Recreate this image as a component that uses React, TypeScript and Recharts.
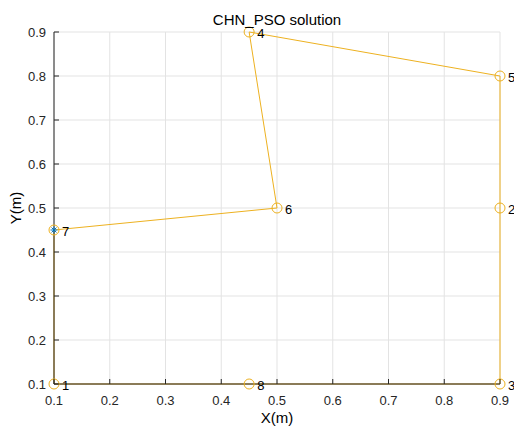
import React from 'react';
import {
  ComposedChart,
  Line,
  Scatter,
  XAxis,
  YAxis,
  CartesianGrid,
} from 'recharts';

// city coordinates (m), ids 1..8
const cityIds = ['1', '2', '3', '4', '5', '6', '7', '8'];
const cityX = [0.1, 0.9, 0.9, 0.45, 0.9, 0.5, 0.1, 0.45];
const cityY = [0.1, 0.5, 0.1, 0.9, 0.8, 0.5, 0.45, 0.1];

// visiting order found by the solver (starts and ends at 7)
const tour = ['7', '6', '4', '5', '2', '3', '8', '1', '7'];
const startCity = '7';

const ticks = [0.1, 0.2, 0.3, 0.4, 0.5, 0.6, 0.7, 0.8, 0.9];

const cities = cityIds.map((id, i) => ({ id, x: cityX[i], y: cityY[i] }));
const route = tour.map((id) => cities.find((c) => c.id === id)!);

const ORANGE = '#EDB120';
const BLUE = '#0072BD';
const AXIS = '#262626';
const FONT = '"Liberation Sans", Arial, Helvetica, sans-serif';

const BottomTick = (props: any) => {
  const { x, y, payload } = props;
  return (
    <g>
      <line x1={x} y1={y} x2={x} y2={y - 5} stroke={AXIS} />
      <text x={x} y={y + 16} textAnchor="middle" dominantBaseline="central" fontSize={13} fill={AXIS} fontFamily={FONT}>
        {payload.value}
      </text>
    </g>
  );
};

const LeftTick = (props: any) => {
  const { x, y, payload } = props;
  return (
    <g>
      <line x1={x} y1={y} x2={x + 5} y2={y} stroke={AXIS} />
      <text x={x - 8} y={y} textAnchor="end" dominantBaseline="central" fontSize={13} fill={AXIS} fontFamily={FONT}>
        {payload.value}
      </text>
    </g>
  );
};

const TopTick = (props: any) => {
  const { x, y } = props;
  return <line x1={x} y1={y} x2={x} y2={y + 5} stroke={AXIS} />;
};

const RightTick = (props: any) => {
  const { x, y } = props;
  return <line x1={x} y1={y} x2={x - 5} y2={y} stroke={AXIS} />;
};

const CityMarker = (props: any) => {
  const { cx, cy, payload } = props;
  const s = 3.5;
  return (
    <g>
      <circle cx={cx} cy={cy} r={5} fill="none" stroke={ORANGE} strokeWidth={1} />
      {payload.id === startCity && (
        <g stroke={BLUE} strokeWidth={1}>
          <line x1={cx - s} y1={cy} x2={cx + s} y2={cy} />
          <line x1={cx} y1={cy - s} x2={cx} y2={cy + s} />
          <line x1={cx - s * 0.7} y1={cy - s * 0.7} x2={cx + s * 0.7} y2={cy + s * 0.7} />
          <line x1={cx - s * 0.7} y1={cy + s * 0.7} x2={cx + s * 0.7} y2={cy - s * 0.7} />
        </g>
      )}
      <text x={cx + 8} y={cy + 1} dominantBaseline="central" fontSize={13} fill="#000" fontFamily={FONT}>
        {payload.id}
      </text>
    </g>
  );
};

const App: React.FC = () => {
  return (
    <div style={{ position: 'absolute', left: 0, top: 0, width: 514, height: 428, background: '#fff', fontFamily: FONT }}>
      <ComposedChart
        width={514}
        height={428}
        data={route}
        margin={{ top: 32, right: 14, bottom: 0, left: 0 }}
      >
        <CartesianGrid stroke="#e3e3e3" xAxisId="bottom" yAxisId="left" />
        <XAxis
          xAxisId="bottom"
          dataKey="x"
          type="number"
          domain={[0.1, 0.9]}
          ticks={ticks}
          height={44}
          tickSize={0}
          tickMargin={0}
          tick={<BottomTick />}
          axisLine={{ stroke: AXIS }}
        />
        <XAxis
          xAxisId="top"
          orientation="top"
          dataKey="x"
          type="number"
          domain={[0.1, 0.9]}
          ticks={ticks}
          height={0}
          tickSize={0}
          tickMargin={0}
          tick={<TopTick />}
          axisLine={{ stroke: AXIS }}
        />
        <YAxis
          yAxisId="left"
          dataKey="y"
          type="number"
          domain={[0.1, 0.9]}
          ticks={ticks}
          width={54}
          tickSize={0}
          tickMargin={0}
          tick={<LeftTick />}
          axisLine={{ stroke: AXIS }}
        />
        <YAxis
          yAxisId="right"
          orientation="right"
          dataKey="y"
          type="number"
          domain={[0.1, 0.9]}
          ticks={ticks}
          width={0}
          tickSize={0}
          tickMargin={0}
          tick={<RightTick />}
          axisLine={{ stroke: AXIS }}
        />
        <Line
          xAxisId="bottom"
          yAxisId="left"
          dataKey="y"
          type="linear"
          stroke={ORANGE}
          strokeWidth={1}
          dot={false}
          activeDot={false}
          isAnimationActive={false}
        />
        <Scatter
          xAxisId="bottom"
          yAxisId="left"
          data={cities}
          dataKey="y"
          shape={<CityMarker />}
          isAnimationActive={false}
        />
      </ComposedChart>
      <div style={{ position: 'absolute', left: 0, width: 554, top: 11, textAlign: 'center', fontSize: 15, lineHeight: '18px', color: '#000', whiteSpace: 'nowrap' }}>
        CHN_PSO solution
      </div>
      <div style={{ position: 'absolute', left: 0, width: 554, top: 409, textAlign: 'center', fontSize: 15, lineHeight: '18px', color: '#000' }}>
        X(m)
      </div>
      <div
        style={{
          position: 'absolute',
          left: 16,
          top: 208,
          transform: 'translate(-50%, -50%) rotate(-90deg)',
          fontSize: 15,
          lineHeight: '18px',
          color: '#000',
          whiteSpace: 'nowrap',
        }}
      >
        Y(m)
      </div>
    </div>
  );
};

export default App;
